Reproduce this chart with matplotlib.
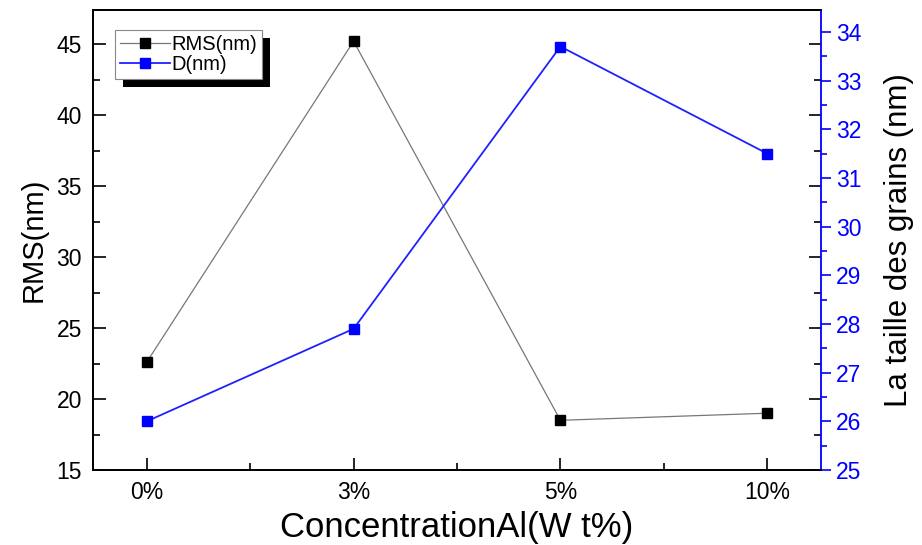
import matplotlib
matplotlib.use("Agg")
import matplotlib.pyplot as plt
from matplotlib.patches import Rectangle
from matplotlib.ticker import MultipleLocator, FixedLocator

categories = ["0%", "3%", "5%", "10%"]
rms_values = [22.6, 45.2, 18.5, 19.0]
d_values = [26.0, 27.9, 33.7, 31.5]

plt.rcParams['font.family'] = ['Liberation Sans', 'DejaVu Sans']

fig = plt.figure(figsize=(9.22, 5.45), dpi=100)
ax1 = fig.add_axes([93/922, 1-470/545, (821-93)/922, (470-10)/545])
ax2 = ax1.twinx()

x = list(range(len(categories)))
l1, = ax1.plot(x, rms_values, color='#777777', lw=0.9, marker='s', ms=7,
               mfc='black', mec='black', label='RMS(nm)', zorder=3)
l2, = ax2.plot(x, d_values, color='#2020ff', lw=1.3, marker='s', ms=7,
               mfc='#0000ff', mec='#0000ff', label='D(nm)', zorder=3)

ax1.set_xlim(-0.26, 3.26)
ax1.set_ylim(15, 47.4)
ax2.set_ylim(25, 34.45)

ax1.set_xticks(x)
ax1.set_xticklabels(categories)
ax1.xaxis.set_minor_locator(FixedLocator([0.5, 1.5, 2.5]))
ax1.yaxis.set_major_locator(MultipleLocator(5))
ax1.yaxis.set_minor_locator(MultipleLocator(2.5))
ax2.yaxis.set_major_locator(MultipleLocator(1))
ax2.yaxis.set_minor_locator(MultipleLocator(0.5))

ax1.tick_params(axis='both', which='major', direction='in', length=9, width=1.2,
                labelsize=16.5, pad=8, top=False, right=True, colors='black')
ax1.tick_params(axis='both', which='minor', direction='in', length=5, width=1.2,
                top=False, right=True)
ax2.tick_params(axis='y', which='major', direction='out', length=7, width=1.2,
                labelsize=16.5, pad=4, colors='#0000ff')
ax2.tick_params(axis='y', which='minor', direction='out', length=4, width=1.2,
                colors='#0000ff')

for s in ['left', 'top', 'bottom']:
    ax2.spines[s].set_linewidth(1.3)
    ax1.spines[s].set_linewidth(1.3)
ax2.spines['right'].set_color('#0000ff')
ax2.spines['right'].set_linewidth(1.3)
ax1.spines['right'].set_visible(False)

ax1.set_xlabel('ConcentrationAl(W t%)', fontsize=25, labelpad=5)
ax1.set_ylabel('RMS(nm)', fontsize=21, labelpad=6)
ax2.set_ylabel('La taille des grains (nm)', fontsize=22.5, labelpad=16)

leg = ax2.legend(handles=[l1, l2], loc='upper left', bbox_to_anchor=(0.03, 0.957),
                 borderaxespad=0, fontsize=14.5, frameon=True, fancybox=False,
                 edgecolor='#888888', framealpha=1, handlelength=2.5,
                 handletextpad=0.05, borderpad=0.25, labelspacing=0.05)
leg.get_frame().set_linewidth(0.8)
leg.set_zorder(10)

fig.canvas.draw()
bb = leg.get_window_extent()
inv = fig.transFigure.inverted()
(x0, y0) = inv.transform((bb.x0 + 8, bb.y0 - 8))
(x1, y1) = inv.transform((bb.x1 + 8, bb.y1 - 8))
shadow = Rectangle((x0, y0), x1 - x0, y1 - y0, transform=fig.transFigure,
                   facecolor='black', edgecolor='none', zorder=9)
ax2.add_artist(shadow)
shadow.set_clip_on(False)

fig.savefig('out.png', dpi=100)
